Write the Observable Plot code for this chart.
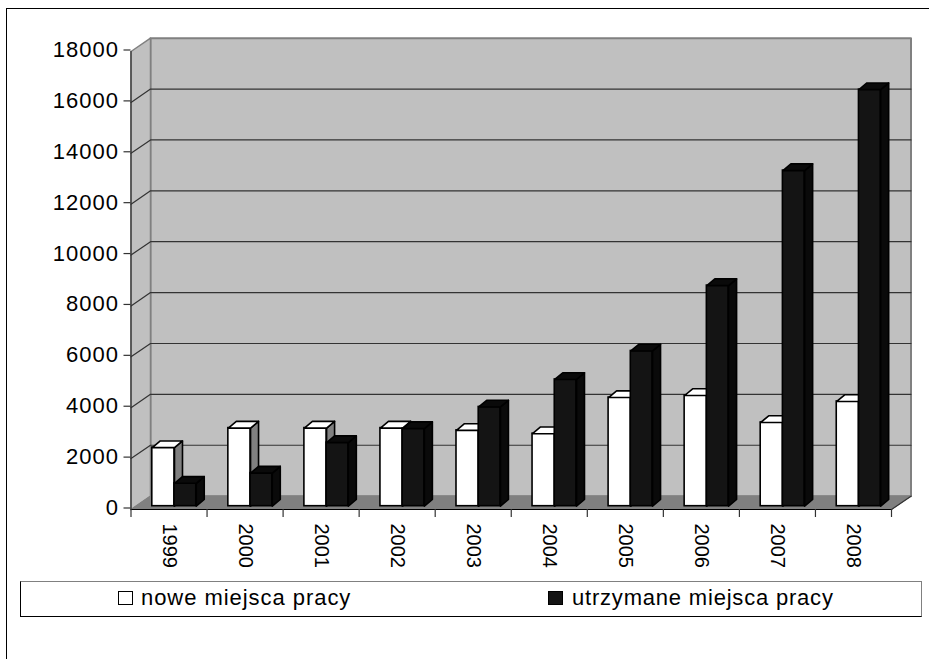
<!DOCTYPE html>
<html><head><meta charset="utf-8">
<script src="https://cdn.jsdelivr.net/npm/d3@7"></script>
<script src="https://cdn.jsdelivr.net/npm/@observablehq/plot@0.6"></script>
<style>
html,body{margin:0;padding:0;background:#fff;overflow:hidden}
#page{position:relative;width:929px;height:659px;overflow:hidden;font-family:"Liberation Sans",Arial,sans-serif;color:#000}
#frame{position:absolute;left:6px;top:8px;width:960px;height:700px;border:1.5px solid #000;box-sizing:border-box}
#chart{position:absolute;left:0;top:0}
#legend{position:absolute;left:20px;top:581px;width:902px;height:36px;box-sizing:border-box;border:1px solid #000;border-top-color:#808080;border-right-color:#808080;background:#fff}
.item{position:absolute;top:0;height:34px;line-height:31px;font-size:22px;white-space:nowrap;letter-spacing:.95px}
#l1{letter-spacing:.8px}
.sw{position:absolute;top:9px;width:15px;height:14px;box-sizing:border-box;border:1.5px solid #000}
g[aria-label="y-axis tick label"]{letter-spacing:1px}
</style></head><body>
<div id="page"><div id="frame"></div><div id="chart"></div>
<div id="legend">
<span class="sw" style="left:97px;background:#fff"></span><span class="item" id="l0" style="left:120px"></span>
<span class="sw" style="left:527px;background:#141414"></span><span class="item" id="l1" style="left:551px"></span>
</div></div>
<script>
const years = [1999,2000,2001,2002,2003,2004,2005,2006,2007,2008];
const nowe = [2300,3070,3070,3070,2980,2850,4270,4350,3290,4115];
const utrzymane = [900,1300,2500,3050,3900,4980,6100,8670,13190,16370];
const seriesNames = ["nowe miejsca pracy","utrzymane miejsca pracy"];
const yTicks = d3.range(0,18001,2000);

// depth of the 3-D box and bars, in scale units
const wallX = 0.2564, wallY = 525;
const barX = 0.105, barY = 263, baseY = 130;
const slot0 = 0.28, slot1 = 0.572, slot2 = 0.858;

const g = (x,y,id)=>({x,y,id});
function faces(values,a,b){
  const side=[],top=[],front=[];
  values.forEach((v,i)=>{
    const l=i+a,r=i+b,t=v+baseY;
    front.push({x1:l,x2:r,y1:baseY,y2:t});
    [[r,baseY],[r+barX,baseY+barY],[r+barX,t+barY],[r,t],[r,baseY]].forEach(p=>side.push(g(p[0],p[1],i)));
    [[l,t],[l+barX,t+barY],[r+barX,t+barY],[r,t],[l,t]].forEach(p=>top.push(g(p[0],p[1],i)));
  });
  return {side,top,front};
}
const W=faces(nowe,slot0,slot1), B=faces(utrzymane,slot1,slot2);
const poly=(pts)=>pts.map(p=>g(p[0],p[1],0));
const yMax=18000;
const backWall=poly([[wallX,wallY],[10+wallX,wallY],[10+wallX,yMax+wallY],[wallX,yMax+wallY],[wallX,wallY]]);
const sideWall=poly([[0,0],[wallX,wallY],[wallX,yMax+wallY],[0,yMax],[0,0]]);
const floor=poly([[0,0],[wallX,wallY],[10+wallX,wallY],[10,0],[0,0]]);
const gridRows=yTicks.slice(1,-1).flatMap(v=>[g(0,v,v),g(wallX,v+wallY,v),g(10+wallX,v+wallY,v)]);
const rightEdge=[g(10,0,0),g(10+wallX,wallY,0)];
const line=(d,o)=>Plot.line(d,{x:"x",y:"y",z:"id",...o});
const rect=(d,o)=>Plot.rect(d,{x1:"x1",x2:"x2",y1:"y1",y2:"y2",...o});

const chart=Plot.plot({
  width:929,height:582,
  marginLeft:130.5,marginRight:38,marginTop:51,marginBottom:73,
  x:{type:"linear",domain:[0,10],axis:null},
  y:{type:"linear",domain:[0,18000],axis:null},
  style:{fontFamily:"'Liberation Sans',Arial,sans-serif",background:"transparent",overflow:"visible"},
  marks:[
    line(backWall,{fill:"#c0c0c0",stroke:"#808080",strokeWidth:2}),
    line(sideWall,{fill:"#c0c0c0",stroke:"#808080",strokeWidth:1.5}),
    line(floor,{fill:"#808080",stroke:"#808080",strokeWidth:1}),
    line(gridRows,{stroke:"#333",strokeWidth:1.2}),
    line(rightEdge,{stroke:"#333",strokeWidth:1.2}),
    rect(W.front,{fill:"#fff",stroke:"#000",strokeWidth:1.6}),
    line(W.side,{fill:"#808080",stroke:"#000",strokeWidth:1.6}),
    line(W.top,{fill:"#fff",stroke:"#000",strokeWidth:1.6}),
    rect(B.front,{fill:"#141414",stroke:"#000",strokeWidth:1.6}),
    line(B.side,{fill:"#0a0a0a",stroke:"#000",strokeWidth:1.6}),
    line(B.top,{fill:"#0a0a0a",stroke:"#000",strokeWidth:1.6}),
    Plot.ruleY([0],{stroke:"#000",strokeWidth:1.2}),
    Plot.ruleX([0],{stroke:"#333",strokeWidth:1.2}),
    Plot.axisY({ticks:yTicks,tickSize:7,tickPadding:5,fontSize:22,dy:-1.5,tickFormat:d=>String(d),label:null,stroke:"#333",strokeWidth:1.2,color:"#000"}),
    Plot.axisX({ticks:d3.range(0,11),tickSize:8,tickFormat:()=>"",label:null,stroke:"#333",strokeWidth:1.2}),
    Plot.text(years,{x:(d,i)=>i+0.5,y:()=>0,text:d=>String(d),rotate:90,textAnchor:"start",lineAnchor:"middle",dy:14,fontSize:20,fill:"#000"})
  ]
});
document.getElementById("chart").append(chart);
document.getElementById("l0").textContent=seriesNames[0];
document.getElementById("l1").textContent=seriesNames[1];
</script></body></html>
